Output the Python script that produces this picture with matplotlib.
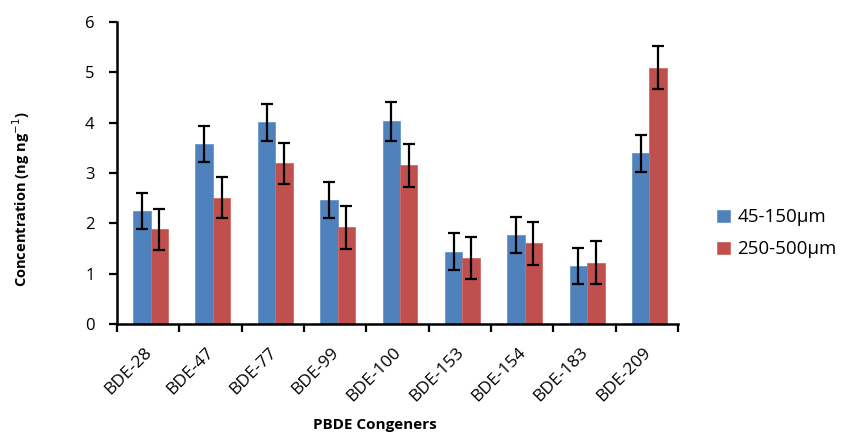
import matplotlib
matplotlib.use("Agg")
import matplotlib.pyplot as plt
import numpy as np

categories = ["BDE-28", "BDE-47", "BDE-77", "BDE-99", "BDE-100", "BDE-153", "BDE-154", "BDE-183", "BDE-209"]
fine = [2.25, 3.57, 4.01, 2.46, 4.03, 1.44, 1.77, 1.16, 3.39]
fine_err = [0.36, 0.36, 0.37, 0.36, 0.39, 0.37, 0.36, 0.36, 0.37]
coarse = [1.88, 2.51, 3.19, 1.92, 3.15, 1.31, 1.60, 1.22, 5.09]
coarse_err = [0.41, 0.41, 0.41, 0.42, 0.42, 0.41, 0.43, 0.43, 0.43]
series_names = ["45-150\u03bcm", "250-500\u03bcm"]
yticks = [0, 1, 2, 3, 4, 5, 6]

plt.rcParams['font.family'] = ['Open Sans', 'DejaVu Sans']

fig = plt.figure(figsize=(8.53, 4.32), dpi=100)
ax = fig.add_axes([0.137, 0.25, 0.658, 0.699])

x = np.arange(len(categories))
w = 0.28
ekw = dict(ecolor="black", elinewidth=1.6, capsize=4, capthick=1.6)
ax.bar(x - w/2 + 0.04, fine, w, yerr=fine_err, color="#4F81BD", edgecolor="#6b97cc",
       linewidth=0.6, label=series_names[0], error_kw=ekw, zorder=2)
ax.bar(x + w/2 + 0.04, coarse, w, yerr=coarse_err, color="#C0504D", edgecolor="#d06a66",
       linewidth=0.6, label=series_names[1], error_kw=ekw, zorder=2)

ax.set_xlim(-0.5, len(categories) - 0.5)
ax.set_ylim(0, 6)
ax.set_yticks(yticks)
ax.set_yticklabels([str(t) for t in yticks], fontsize=12)
ax.set_xticks(np.arange(len(categories) + 1) - 0.5)
ax.set_xticklabels([])
ax.set_xticks(x - 0.07, minor=True)
ax.set_xticklabels(categories, minor=True, rotation=45, ha="right",
                   rotation_mode="anchor", fontsize=12.5)
ax.tick_params(axis="x", which="minor", length=0, pad=15)
ax.tick_params(axis="x", which="major", length=6, width=1.6, direction="out")
ax.tick_params(axis="y", length=6, width=1.6, direction="out", pad=10)

for s in ["top", "right"]:
    ax.spines[s].set_visible(False)
for s in ["left", "bottom"]:
    ax.spines[s].set_linewidth(1.8)

ax.set_ylabel("Concentration (ng ng$^{-1}$)", fontsize=10.5, fontweight="bold")
ax.yaxis.set_label_coords(-0.151, 0.414)
ax.set_xlabel("PBDE Congeners", fontsize=11, fontweight="bold")
ax.xaxis.set_label_coords(0.46, -0.31)

ax.legend(loc="center left", bbox_to_anchor=(1.04, 0.30), frameon=False, fontsize=13.5,
          handlelength=0.65, handleheight=0.65, handletextpad=0.4, labelspacing=0.75)

fig.savefig("out.png", dpi=100)
